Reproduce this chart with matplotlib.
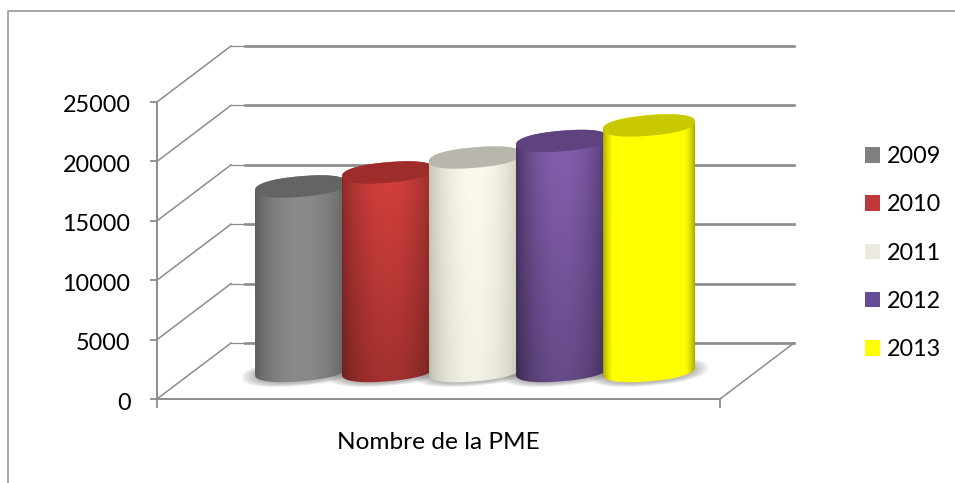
import numpy as np
import matplotlib
matplotlib.use("Agg")
import matplotlib.pyplot as plt
from matplotlib.lines import Line2D
from matplotlib.patches import Patch, PathPatch, Polygon
from matplotlib.path import Path
from matplotlib.transforms import Affine2D

plt.rcParams['font.family'] = ['Lato', 'DejaVu Sans']

# ---- data ----
years = ['2009', '2010', '2011', '2012', '2013']
values = [15530, 16710, 17970, 19360, 20670]
yticks = [0, 5000, 10000, 15000, 20000, 25000]
category = 'Nombre de la PME'

# ---- styles ----
edge_cols = ['#5c5c5c', '#8e2b29', '#c4c4b2', '#4a3465', '#a8a800']
mid_cols = ['#8a8a8a', '#d8413e', '#fdfbee', '#8661b2', '#ffff00']
cap_cols = ['#646464', '#9e2c2a', '#b9b6ae', '#5f437f', '#c9c900']
leg_cols = ['#808080', '#c0393a', '#ece9df', '#674b94', '#ffff00']
bottom_fade = [1.0, 0.74, 0.96, 0.76, 1.0]
GREY = '#8c8c8c'

W, H = 955, 483
fig = plt.figure(figsize=(W / 100, H / 100), dpi=100, facecolor='white')

# axes = the front plane of the 3-D box
X0, X1, Y0, Y1 = 157, 720, 399, 102
ax = fig.add_axes([X0 / W, 1 - Y0 / H, (X1 - X0) / W, (Y0 - Y1) / H], facecolor='none')
step = 87.0
first = 264.5
xlim = ((X0 - first) / step, (X1 - first) / step)
pxy = (Y0 - Y1) / 25000.0

tr_back = ax.transData + Affine2D().translate(74, 56)
tr_mid = ax.transData + Affine2D().translate(36.5, 28)
DEPTH_X, DEPTH_Y = 74 / step, 56 / pxy

# walls and floor
for v in yticks:
    ax.plot([xlim[0], xlim[0] + DEPTH_X], [v, v + DEPTH_Y], color=GREY, lw=1.1, zorder=1, clip_on=False)
    ax.plot([xlim[0], xlim[1]], [v, v], color=GREY, lw=0.9, transform=tr_back, zorder=1, clip_on=False)
    ax.plot([xlim[0] + 14 / step, xlim[1]], [v, v], color=GREY, lw=1.9, transform=tr_back,
            zorder=1, clip_on=False)
ax.plot([xlim[1], xlim[1] + DEPTH_X], [0, DEPTH_Y], color=GREY, lw=1.1, zorder=1, clip_on=False)


def hex2rgb(c):
    return np.array(matplotlib.colors.to_rgb(c))


a = 46 / step          # half width of a cylinder, in category units
b = 10.3 / pxy         # half height of its ellipse, in value units
tilt = 3.8 / pxy       # rise of the ellipse from centre to right edge
EXP = 0.88             # slightly blunter than a true ellipse


def ell(cx, cy, ta, tb, scale=1.0):
    tt = np.linspace(ta, tb, 120)
    c = np.sign(np.cos(tt)) * np.abs(np.cos(tt)) ** EXP
    s = np.sign(np.sin(tt)) * np.abs(np.sin(tt)) ** EXP
    return np.column_stack([cx + a * scale * c, cy + scale * (b * s + tilt * c)])


# soft shadow on the floor
for i in range(len(years)):
    for g in np.linspace(1.3, 1.0, 8):
        pts = ell(i, -1.5 / pxy, 0, 2 * np.pi, g)
        ax.add_patch(Polygon(pts, closed=True, fc='#5a5a5a', ec='none', alpha=0.06,
                             transform=tr_mid, zorder=2, clip_on=False))

# cylinders
for i, v in enumerate(values):
    top = ell(i, v, 0, np.pi)
    bot = ell(i, 0, np.pi, 2 * np.pi)
    patch = PathPatch(Path(np.vstack([top, bot, top[:1]])), transform=tr_mid, fc='none', ec='none')
    u = np.linspace(-1, 1, 120)
    f = np.clip(1 - np.abs(u) ** 1.9, 0, 1) ** 0.75
    if years[i] == '2013':
        f = np.clip(f * 2.2, 0, 1)
    e, m = hex2rgb(edge_cols[i]), hex2rgb(mid_cols[i])
    row = e[None, :] * (1 - f[:, None]) + m[None, :] * f[:, None]
    vs = np.linspace(1, bottom_fade[i], 60)
    img = row[None, :, :] * vs[:, None, None]
    im = ax.imshow(np.clip(img, 0, 1), extent=(i - a, i + a, -1800, v + 1800), origin='upper',
                   transform=tr_mid, aspect='auto', interpolation='bilinear', zorder=3 + i)
    im.set_clip_path(patch)
    ax.add_patch(Polygon(ell(i, v, 0, 2 * np.pi), closed=True, fc=cap_cols[i], ec='none',
                         transform=tr_mid, zorder=3 + i, clip_on=False))

# axes furniture
ax.set_xlim(*xlim)
ax.set_ylim(0, 25000)
for s in ['top', 'right']:
    ax.spines[s].set_visible(False)
for s in ['left', 'bottom']:
    ax.spines[s].set_color(GREY)
    ax.spines[s].set_linewidth(1.4)
ax.set_yticks(yticks)
ax.set_yticklabels([str(v) for v in yticks], fontsize=16.8, color='black')
ax.tick_params(axis='y', length=5, width=1.3, color=GREY, pad=14)
for lab in ax.get_yticklabels():
    lab.set_transform(lab.get_transform() + Affine2D().translate(0, -2))
ax.set_xticks(list(xlim))
ax.set_xticklabels(['', ''])
ax.tick_params(axis='x', length=6.5, width=1.3, color=GREY)
ax.set_xlabel(category, fontsize=17.6, color='black', labelpad=14)
ax.xaxis.label.set_x((438 - X0) / (X1 - X0))

# legend
handles = [Patch(fc=c, ec='none', label=y) for c, y in zip(leg_cols, years)]
fig.legend(handles=handles, loc='upper left', bbox_to_anchor=(858 / W, 1 - 139 / H),
           frameon=False, fontsize=16.8, handlelength=0.64, handleheight=0.64,
           handletextpad=0.3, labelspacing=1.17, borderpad=0.3, borderaxespad=0)

# outer chart frame (top and left only)
fig.add_artist(Line2D([8 / W, 8 / W, 1], [0, 1 - 11 / H, 1 - 11 / H], color='#a0a0a0', lw=1.3,
                      transform=fig.transFigure))

fig.savefig('out.png', dpi=100, facecolor='white')
